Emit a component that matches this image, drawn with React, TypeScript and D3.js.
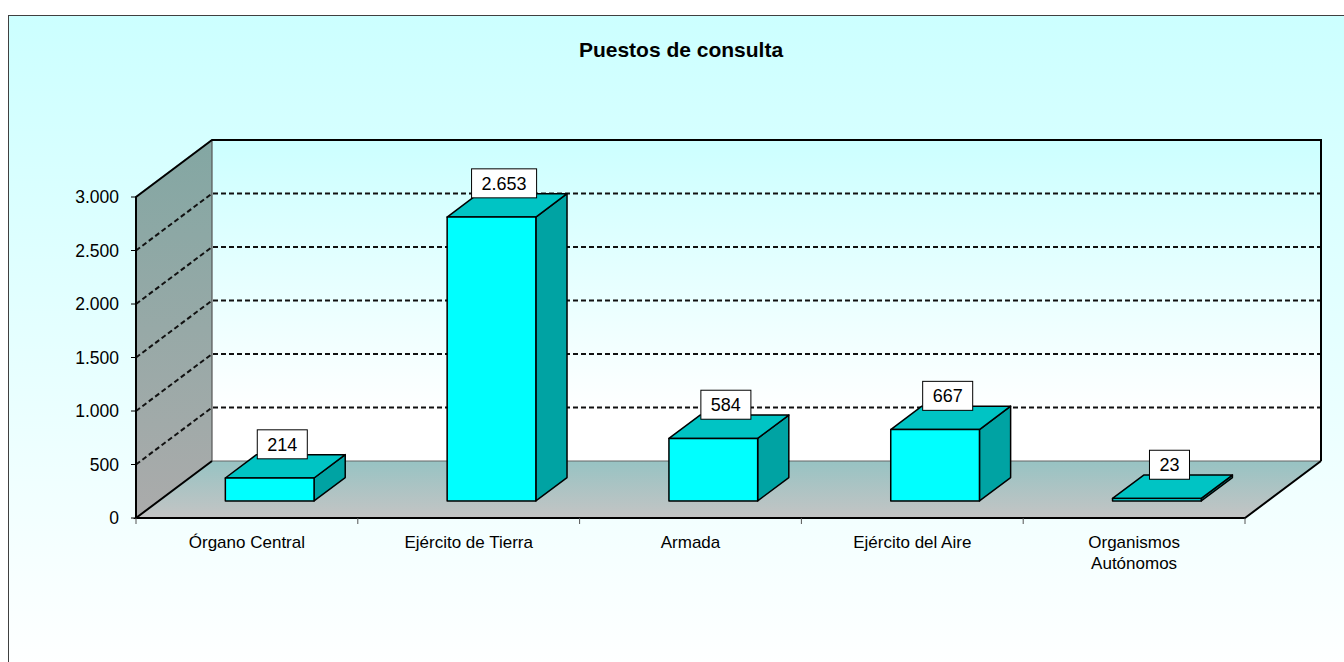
import React from "react";
import * as d3 from "d3";

const categories = [
  "Órgano Central",
  "Ejército de Tierra",
  "Armada",
  "Ejército del Aire",
  "Organismos Autónomos",
];
const categoryLines = [
  ["Órgano Central"],
  ["Ejército de Tierra"],
  ["Armada"],
  ["Ejército del Aire"],
  ["Organismos", "Autónomos"],
];
const values = [214, 2653, 584, 667, 23];
const valueTicks = [0, 500, 1000, 1500, 2000, 2500, 3000];
const title = "Puestos de consulta";

const W = 1344;
const H = 662;
const font = "'Liberation Sans', Arial, Helvetica, sans-serif";

// plot geometry (front-left corner of the floor + depth vector)
const x0 = 136;
const x1 = 1245;
const yBase = 518;
const depthX = 76;
const depthY = -57;
const barFront = 0.3; // fraction of depth where bars start
const barDepth = 0.41;

const es = d3.formatLocale({
  decimal: ",",
  thousands: ".",
  grouping: [3],
  currency: ["", " €"],
});
const fmt = es.format(",d");

const charW = (s: string, size: number) =>
  s.split("").reduce((a, c) => a + (c === "." ? 0.278 : 0.556), 0) * size;

const App = () => {
  const h = d3.scaleLinear().domain([0, 3000]).range([0, 321]);
  const xCat = d3.scaleBand<string>().domain(categories).range([x0, x1]);
  const xBar = d3
    .scaleBand<string>()
    .domain(categories)
    .range([x0, x1])
    .paddingInner(0.6)
    .paddingOuter(0.3);

  const top = yBase - h(3000);
  const bx = depthX;
  const by = depthY;
  const pts = (p: number[][]) => p.map((d) => d.join(",")).join(" ");

  const bfx = barFront * depthX;
  const bfy = barFront * depthY;
  const bdx = barDepth * depthX;
  const bdy = barDepth * depthY;

  return (
    <svg
      width={W}
      height={H}
      style={{ position: "absolute", left: 0, top: 0, display: "block" }}
    >
      <defs>
        <linearGradient id="bg" x1="0" y1="0" x2="0" y2="1">
          <stop offset="0" stopColor="#ccffff" />
          <stop offset="1" stopColor="#ffffff" />
        </linearGradient>
        <linearGradient id="back" x1="0" y1="0" x2="0" y2="1">
          <stop offset="0" stopColor="#ccffff" />
          <stop offset="0.85" stopColor="#ffffff" />
          <stop offset="1" stopColor="#ffffff" />
        </linearGradient>
        <linearGradient id="wall" x1="0" y1="0" x2="0" y2="1">
          <stop offset="0" stopColor="#83a7a3" />
          <stop offset="1" stopColor="#ababab" />
        </linearGradient>
        <linearGradient id="floor" x1="0" y1="0" x2="0" y2="1">
          <stop offset="0" stopColor="#97c3c3" />
          <stop offset="1" stopColor="#c4c4c4" />
        </linearGradient>
      </defs>

      <rect x={8.5} y={15.5} width={W} height={H} fill="url(#bg)" stroke="#404040" />

      <text
        x={681}
        y={57}
        textAnchor="middle"
        fontFamily={font}
        fontWeight="bold"
        fontSize={21}
      >
        {title}
      </text>

      {/* back wall */}
      <rect
        x={x0 + bx}
        y={top + by}
        width={x1 - x0}
        height={h(3000)}
        fill="url(#back)"
      />
      {/* left wall */}
      <polygon
        points={pts([
          [x0, yBase],
          [x0, top],
          [x0 + bx, top + by],
          [x0 + bx, yBase + by],
        ])}
        fill="url(#wall)"
      />
      {/* floor */}
      <polygon
        points={pts([
          [x0, yBase],
          [x1, yBase],
          [x1 + bx, yBase + by],
          [x0 + bx, yBase + by],
        ])}
        fill="url(#floor)"
      />
      <line x1={x0 + bx} y1={yBase + by} x2={x1 + bx} y2={yBase + by} stroke="#666" strokeWidth={1.2} />
      <line x1={x0 + bx} y1={yBase + by} x2={x0 + bx} y2={top + by} stroke="#555" strokeWidth={1.2} />

      {/* gridlines */}
      {valueTicks
        .filter((v) => v > 0 && v < 3000)
        .map((v) => (
          <g key={v} stroke="#111" strokeWidth={2} strokeDasharray="5,3" fill="none">
            <polyline
              points={pts([
                [x0, yBase - h(v)],
                [x0 + bx, yBase - h(v) + by],
                [x1 + bx, yBase - h(v) + by],
              ])}
            />
          </g>
        ))}

      {/* outlines */}
      <g stroke="#000" strokeWidth={2} fill="none" strokeLinejoin="miter">
        <polyline
          points={pts([
            [x0, yBase],
            [x0, top],
            [x0 + bx, top + by],
            [x1 + bx, top + by],
            [x1 + bx, yBase + by],
          ])}
        />
        <polyline
          points={pts([
            [x0 + bx, yBase + by],
            [x0, yBase],
            [x1, yBase],
            [x1 + bx, yBase + by],
          ])}
        />
      </g>

      {/* value axis ticks */}
      {valueTicks.map((v) => (
        <g key={v}>
          <line x1={x0 - 5} x2={x0} y1={yBase - h(v)} y2={yBase - h(v)} stroke="#000" />
          <text
            x={119}
            y={yBase - h(v)}
            dy="0.36em"
            textAnchor="end"
            fontFamily={font}
            fontSize={17.5}
          >
            {fmt(v)}
          </text>
        </g>
      ))}

      {/* category ticks */}
      {[...categories.map((c) => xCat(c)!), x1].map((x, i) => (
        <line key={i} x1={x} x2={x} y1={yBase} y2={yBase + 6} stroke="#555" />
      ))}
      {categories.map((c, i) => (
        <text
          key={c}
          x={xCat(c)! + xCat.bandwidth() / 2}
          y={548}
          textAnchor="middle"
          fontFamily={font}
          fontSize={17}
        >
          {categoryLines[i].map((l, j) => (
            <tspan key={j} x={xCat(c)! + xCat.bandwidth() / 2} dy={j === 0 ? 0 : 21}>
              {l}
            </tspan>
          ))}
        </text>
      ))}

      {/* bars */}
      {categories.map((c, i) => {
        const v = values[i];
        const xl = xBar(c)! + bfx;
        const xr = xl + xBar.bandwidth();
        const yb = yBase + bfy;
        const yt = yb - h(v);
        return (
          <g key={c} stroke="#000" strokeWidth={1.5} strokeLinejoin="round">
            <polygon
              points={pts([
                [xr, yt],
                [xr + bdx, yt + bdy],
                [xr + bdx, yb + bdy],
                [xr, yb],
              ])}
              fill="#00a3a3"
            />
            <polygon
              points={pts([
                [xl, yt],
                [xr, yt],
                [xr + bdx, yt + bdy],
                [xl + bdx, yt + bdy],
              ])}
              fill="#00c4c4"
            />
            <rect x={xl} y={yt} width={xr - xl} height={yb - yt} fill="#00ffff" />
          </g>
        );
      })}

      {/* data labels */}
      {categories.map((c, i) => {
        const v = values[i];
        const label = fmt(v);
        const cx = xBar(c)! + bfx + xBar.bandwidth() / 2 + bdx / 2 - 3;
        const cy = yBase + bfy - h(v) + bdy / 2 - 22;
        const bw = charW(label, 18) + 20;
        const bh = 29;
        return (
          <g key={c}>
            <rect
              x={cx - bw / 2}
              y={cy - bh / 2}
              width={bw}
              height={bh}
              fill="#fff"
              stroke="#000"
              strokeWidth={1}
            />
            <text
              x={cx}
              y={cy}
              dy="0.36em"
              textAnchor="middle"
              fontFamily={font}
              fontSize={18}
            >
              {label}
            </text>
          </g>
        );
      })}
    </svg>
  );
};

export default App;
